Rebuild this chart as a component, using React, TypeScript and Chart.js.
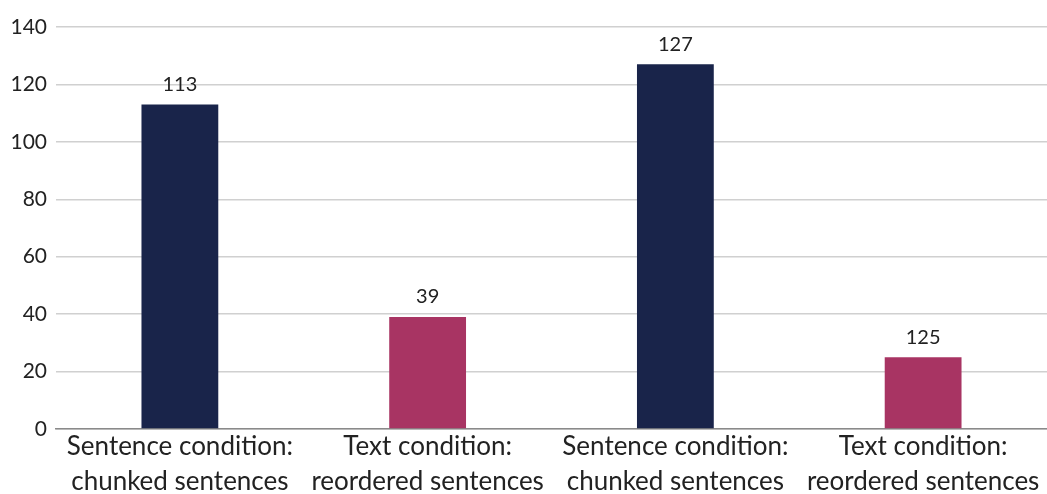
import React, { useEffect, useRef } from "react";
import { Chart, registerables } from "chart.js";

Chart.register(...registerables);

const categories: string[][] = [
  ["Sentence condition:", "chunked sentences"],
  ["Text condition:", "reordered sentences"],
  ["Sentence condition:", "chunked sentences"],
  ["Text condition:", "reordered sentences"],
];
const values: number[] = [113, 39, 127, 25];
const valueLabels: string[] = ["113", "39", "127", "125"];
const barColors: string[] = ["#19244a", "#a83463", "#19244a", "#a83463"];
const yTicks = { min: 0, max: 140, step: 20 };

const FONT = "Lato, 'Open Sans', sans-serif";

const labelPlugin = {
  id: "valueLabels",
  afterDatasetsDraw(chart: any) {
    const ctx = chart.ctx;
    const meta = chart.getDatasetMeta(0);
    ctx.save();
    ctx.font = `20px ${FONT}`;
    ctx.fillStyle = "#222222";
    ctx.textAlign = "center";
    ctx.textBaseline = "middle";
    meta.data.forEach((bar: any, i: number) => {
      ctx.fillText(valueLabels[i], bar.x, bar.y - 20);
    });
    ctx.restore();
  },
};

export default function App() {
  const ref = useRef<HTMLCanvasElement | null>(null);
  useEffect(() => {
    if (!ref.current) return;
    const chart = new Chart(ref.current, {
      type: "bar",
      data: {
        labels: categories,
        datasets: [
          {
            data: values,
            backgroundColor: barColors,
            barPercentage: 0.62,
            categoryPercentage: 0.5,
          },
        ],
      },
      options: {
        animation: false,
        responsive: false,
        maintainAspectRatio: false,
        layout: { padding: { top: 27, right: 0, left: 0, bottom: 0 } },
        plugins: { legend: { display: false }, tooltip: { enabled: false } },
        scales: {
          x: {
            grid: { display: false, drawTicks: false },
            border: { display: true, color: "#8a8a8a", width: 1.5 },
            ticks: {
              color: "#222222",
              font: { family: FONT, size: 26, lineHeight: "35px" },
              padding: 0,
              maxRotation: 0,
              autoSkip: false,
            },
            afterFit: (scale: any) => {
              scale.height = 65;
            },
          },
          y: {
            min: yTicks.min,
            max: yTicks.max,
            ticks: {
              stepSize: yTicks.step,
              color: "#222222",
              font: { family: FONT, size: 21 },
              padding: 9,
            },
            grid: { color: "#d0d0d0", lineWidth: 1.5, drawTicks: false },
            border: { display: false },
            afterFit: (scale: any) => {
              scale.width = 56;
            },
          },
        },
      },
      plugins: [labelPlugin],
    });
    return () => chart.destroy();
  }, []);
  return (
    <div style={{ position: "fixed", left: 0, top: 0, width: 1047, height: 494, background: "#fff" }}>
      <canvas ref={ref} width={1047} height={494} />
    </div>
  );
}
